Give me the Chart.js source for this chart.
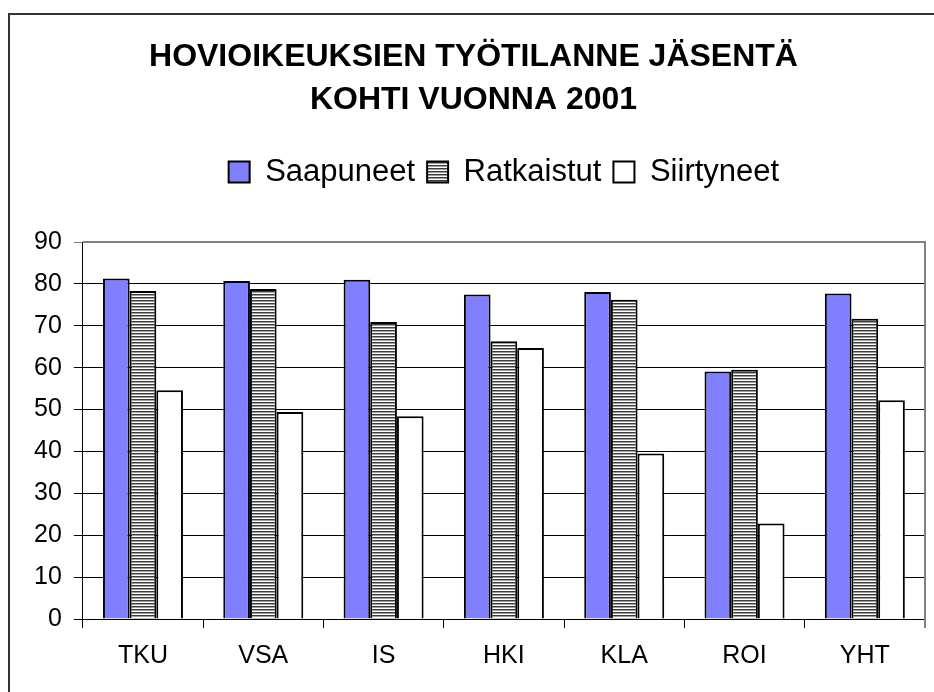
<!DOCTYPE html>
<html>
<head>
<meta charset="utf-8">
<script src="https://cdn.jsdelivr.net/npm/chart.js@4.4.1/dist/chart.umd.min.js"></script>
<style>
  html, body { margin: 0; padding: 0; background: #fff; }
  #wrap { width: 934px; height: 692px; }
</style>
</head>
<body>
<div id="wrap"><canvas id="hovioikeus_chart" width="934" height="692"></canvas></div>
<script>
// data
const categories = ["TKU", "VSA", "IS", "HKI", "KLA", "ROI", "YHT"];
const saapuneet = [81.3, 80.7, 81.0, 77.5, 78.1, 59.1, 77.7];
const ratkaistut = [78.3, 78.8, 70.9, 66.3, 76.2, 59.5, 71.7];
const siirtyneet = [54.6, 49.4, 48.4, 64.7, 39.5, 22.8, 52.2];
const seriesNames = ["Saapuneet", "Ratkaistut", "Siirtyneet"];
const titleLines = ["HOVIOIKEUKSIEN TYÖTILANNE JÄSENTÄ", "KOHTI VUONNA 2001"];

// horizontal stripe fill for "Ratkaistut"
function stripes() {
  const c = document.createElement("canvas");
  c.width = 4;
  c.height = 3;
  const g = c.getContext("2d");
  g.fillStyle = "#ffffff";
  g.fillRect(0, 0, 4, 3);
  g.fillStyle = "#3c3c3c";
  g.fillRect(0, 0, 4, 1);
  g.fillStyle = "#a0a0a0";
  g.fillRect(0, 1, 4, 1);
  return g.createPattern(c, "repeat");
}

// outer frame + gray top/right border of the plot area
const frame = {
  id: "frame",
  beforeDraw(chart) {
    const ctx = chart.ctx;
    ctx.save();
    ctx.fillStyle = "#fff";
    ctx.fillRect(0, 0, chart.width, chart.height);
    ctx.strokeStyle = "#333";
    ctx.lineWidth = 2;
    ctx.beginPath();
    ctx.moveTo(9, chart.height);
    ctx.lineTo(9, 14);
    ctx.lineTo(chart.width, 14);
    ctx.stroke();
    ctx.restore();
  },
  beforeDatasetsDraw(chart) {
    const a = chart.chartArea;
    const ctx = chart.ctx;
    ctx.save();
    ctx.strokeStyle = "#808080";
    ctx.lineWidth = 2;
    ctx.beginPath();
    ctx.moveTo(a.left, a.top);
    ctx.lineTo(a.right, a.top);
    ctx.lineTo(a.right, a.bottom + 9);
    ctx.stroke();
    ctx.restore();
  }
};

let context = document.querySelector("#hovioikeus_chart").getContext("2d");
new Chart(context, {
  type: "bar",
  data: {
    labels: categories,
    datasets: [
      {
        label: seriesNames[0],
        data: saapuneet,
        backgroundColor: "#8080ff",
        borderColor: "#000",
        borderWidth: 2,
      },
      {
        label: seriesNames[1],
        data: ratkaistut,
        backgroundColor: stripes(),
        borderColor: "#000",
        borderWidth: 2,
      },
      {
        label: seriesNames[2],
        data: siirtyneet,
        backgroundColor: "#ffffff",
        borderColor: "#000",
        borderWidth: 2,
      },
    ],
  },
  options: {
    responsive: false,
    animation: false,
    categoryPercentage: 0.665,
    barPercentage: 1,
    layout: {
      padding: { left: 22, right: 9, top: 0, bottom: 8 },
    },
    scales: {
      x: {
        grid: {
          offset: true,
          drawOnChartArea: false,
          drawTicks: true,
          tickLength: 9,
          color: "#000",
        },
        border: { color: "#000", width: 1 },
        ticks: {
          color: "#000",
          padding: 13,
          font: { family: "'Liberation Sans', Arial, sans-serif", size: 25 },
        },
      },
      y: {
        min: 0,
        max: 90,
        ticks: {
          stepSize: 10,
          color: "#000",
          padding: 12,
          font: { family: "'Liberation Sans', Arial, sans-serif", size: 25 },
        },
        grid: {
          tickLength: 9,
          color: (c) => (c.tick && c.tick.value === 90 ? "#808080" : "#000"),
        },
        border: { color: "#000", width: 1 },
      },
    },
    plugins: {
      title: {
        display: true,
        text: titleLines,
        color: "#000",
        font: { family: "'Liberation Sans', Arial, sans-serif", size: 32, weight: "bold", lineHeight: 1.36 },
        padding: { top: 35, bottom: 22.5 },
      },
      legend: {
        display: true,
        position: "top",
        fullSize: false,
        labels: {
          color: "#000",
          boxWidth: 21,
          boxHeight: 21,
          padding: 12,
          font: { family: "'Liberation Sans', Arial, sans-serif", size: 31 },
        },
      },
      // empty spacer between legend and plot
      subtitle: {
        display: true,
        text: "",
        weight: 500,
        font: { size: 10, lineHeight: 1.2 },
        padding: { top: 0, bottom: 32.5 },
      },
      tooltip: { enabled: false },
    },
  },
  plugins: [frame],
});
</script>
</body>
</html>
